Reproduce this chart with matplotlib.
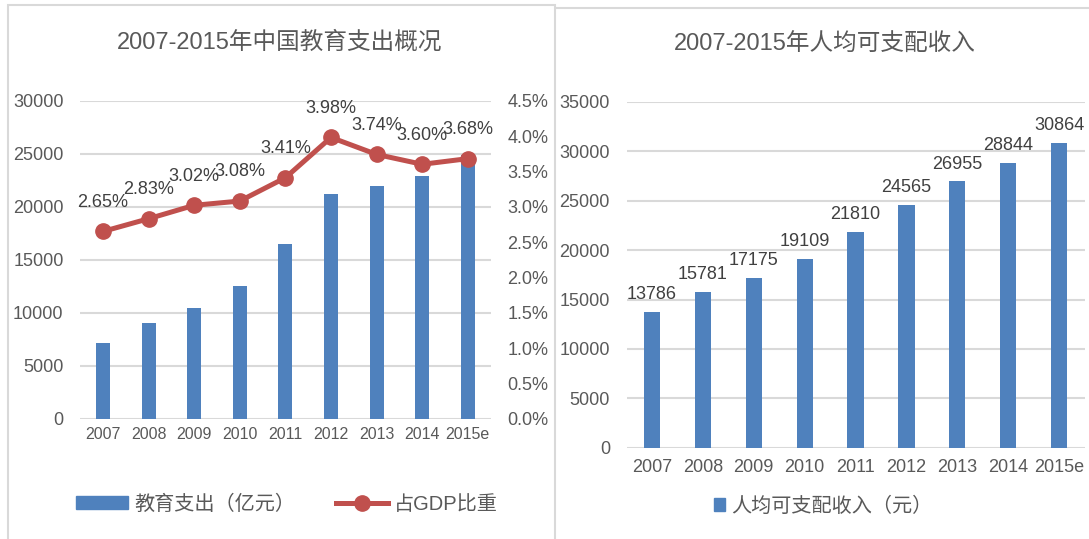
import matplotlib
matplotlib.use('Agg')
import matplotlib.pyplot as plt
from matplotlib.patches import Patch, Rectangle
from matplotlib.lines import Line2D
from matplotlib.ticker import FuncFormatter

plt.rcParams['font.family'] = ['Liberation Sans', 'Noto Sans CJK SC', 'DejaVu Sans']

years = ['2007', '2008', '2009', '2010', '2011', '2012', '2013', '2014', '2015e']
edu_spend = [7120, 9000, 10420, 12550, 16480, 21200, 21980, 22870, 24880]
gdp_share = [2.65, 2.83, 3.02, 3.08, 3.41, 3.98, 3.74, 3.60, 3.68]
income = [13786, 15781, 17175, 19109, 21810, 24565, 26955, 28844, 30864]

left_title = '2007-2015年中国教育支出概况'
right_title = '2007-2015年人均可支配收入'
edu_label = '教育支出（亿元）'
share_label = '占GDP比重'
income_label = '人均可支配收入（元）'

bar_color = '#4F81BD'
line_color = '#C0504D'
grid_color = '#D9D9D9'
tick_color = '#595959'
label_color = '#404040'

W, H = 1089, 539
fig = plt.figure(figsize=(W / 100, H / 100), dpi=100)

# panel borders (left panel box runs off the bottom edge)
fig.patches.append(Rectangle((7.5 / W, -0.05), (554.7 - 7.5) / W, 1.05 - 5 / H, transform=fig.transFigure,
                             fill=False, edgecolor=grid_color, lw=1.5))
fig.add_artist(Line2D([556 / W, 1088 / W], [1 - 7.5 / H, 1 - 7.5 / H], transform=fig.transFigure,
                      color=grid_color, lw=1.5))

x = list(range(len(years)))

# ---------------- left chart
ax1 = fig.add_axes([80.2 / W, 1 - 418.7 / H, 410.4 / W, 318 / H])
ax1.bar(x, edu_spend, width=0.31, color=bar_color, zorder=2)
ax1.set_xlim(-0.5, 8.5)
ax1.set_ylim(0, 30000)
ax1.set_yticks(range(0, 30001, 5000))
ax1.set_xticks(x)
ax1.set_xticklabels(years)
ax1.grid(axis='y', color=grid_color, lw=1.5, zorder=0)
for s in ax1.spines.values():
    s.set_visible(False)
ax1.tick_params(axis='y', length=0, pad=12, labelsize=13, labelcolor=tick_color)
ax1.tick_params(axis='x', length=0, pad=6, labelsize=11.5, labelcolor=tick_color)

ax2 = ax1.twinx()
ax2.plot(x, gdp_share, color=line_color, lw=3.6, marker='o', ms=11, zorder=3)
ax2.set_ylim(0, 4.5)
ax2.set_yticks([i * 0.5 for i in range(10)])
ax2.yaxis.set_major_formatter(FuncFormatter(lambda v, p: f'{v:.1f}%'))
for s in ax2.spines.values():
    s.set_visible(False)
ax2.tick_params(axis='y', length=0, pad=12, labelsize=13, labelcolor=tick_color)
for xi, v in zip(x, gdp_share):
    ax2.annotate(f'{v:.2f}%', (xi, v), xytext=(0, 21), textcoords='offset points',
                 ha='center', va='center', fontsize=13, color=label_color)

fig.text(280 / W, 1 - 42 / H, left_title, ha='center', va='center', fontsize=17, color=tick_color)

h1 = [Patch(color=bar_color),
      Line2D([], [], color=line_color, lw=3.6, marker='o', ms=11)]
fig.legend(h1, [edu_label, share_label], loc='center', bbox_to_anchor=(287 / W, 1 - 504 / H),
           ncol=2, frameon=False, fontsize=14.5, handlelength=2.6, handleheight=0.65,
           handletextpad=0.3, columnspacing=2.0, labelcolor=tick_color)

# ---------------- right chart
ax3 = fig.add_axes([626.6 / W, 1 - 447.7 / H, 457.9 / W, 345.7 / H])
ax3.bar(x, income, width=0.32, color=bar_color, zorder=2)
ax3.set_xlim(-0.5, 8.5)
ax3.set_ylim(0, 35000)
ax3.set_yticks(range(0, 35001, 5000))
ax3.set_xticks(x)
ax3.set_xticklabels(years)
ax3.grid(axis='y', color=grid_color, lw=1.5, zorder=0)
for s in ax3.spines.values():
    s.set_visible(False)
ax3.tick_params(axis='y', length=0, pad=12, labelsize=13, labelcolor=tick_color)
ax3.tick_params(axis='x', length=0, pad=8, labelsize=13, labelcolor=tick_color)
for xi, v in zip(x, income):
    ax3.annotate(str(v), (xi, v), xytext=(0, 12.5), textcoords='offset points',
                 ha='center', va='center', fontsize=13, color=label_color)

fig.text(825 / W, 1 - 45 / H, right_title, ha='center', va='center', fontsize=17, color=tick_color)

fig.legend([Patch(color=bar_color)], [income_label], loc='center', bbox_to_anchor=(823 / W, 1 - 506 / H),
           frameon=False, fontsize=14.5, handlelength=0.55, handleheight=0.6,
           handletextpad=0.3, labelcolor=tick_color)

plt.savefig('out.png', dpi=100)
